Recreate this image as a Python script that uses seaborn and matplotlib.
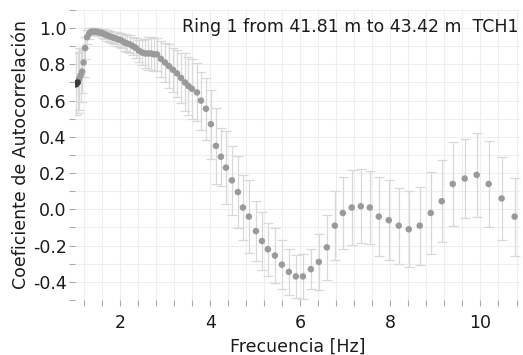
import numpy as np
import pandas as pd
import matplotlib
matplotlib.use("Agg")
import matplotlib.pyplot as plt
from matplotlib.ticker import MultipleLocator
import seaborn as sns

freq = [1.024, 1.058, 1.091, 1.124, 1.157, 1.191, 1.224, 1.268, 1.313, 1.357,
        1.401, 1.446, 1.490, 1.534, 1.579, 1.623, 1.667, 1.712, 1.767, 1.823,
        1.878, 1.933, 1.989, 2.044, 2.100, 2.155, 2.222, 2.288, 2.355, 2.421,
        2.488, 2.554, 2.621, 2.687, 2.754, 2.820, 2.909, 2.998, 3.086, 3.175,
        3.264, 3.353, 3.441, 3.519, 3.596, 3.707, 3.796, 3.907, 4.018, 4.129,
        4.239, 4.350, 4.483, 4.616, 4.727, 4.860, 5.016, 5.149, 5.282, 5.437,
        5.592, 5.747, 5.902, 6.058, 6.235, 6.412, 6.590, 6.767, 6.945, 7.143,
        7.344, 7.543, 7.743, 7.965, 8.186, 8.408, 8.652, 8.896, 9.140, 9.384,
        9.650, 9.916, 10.182, 10.470, 10.758]

coef = [0.69, 0.70, 0.72, 0.74, 0.76, 0.81, 0.89, 0.95, 0.97, 0.98,
        0.98, 0.98, 0.98, 0.975, 0.975, 0.97, 0.965, 0.96, 0.955, 0.95,
        0.945, 0.94, 0.935, 0.93, 0.92, 0.915, 0.91, 0.90, 0.89, 0.875,
        0.865, 0.86, 0.86, 0.86, 0.855, 0.855, 0.83, 0.81, 0.79, 0.77,
        0.75, 0.725, 0.70, 0.68, 0.665, 0.645, 0.60, 0.555, 0.47, 0.35,
        0.29, 0.23, 0.16, 0.095, 0.01, -0.04, -0.12, -0.175, -0.22, -0.255,
        -0.305, -0.345, -0.37, -0.37, -0.33, -0.29, -0.21, -0.09, -0.02, 0.01,
        0.017, 0.01, -0.04, -0.06, -0.09, -0.11, -0.09, -0.02, 0.045, 0.14,
        0.17, 0.19, 0.14, 0.06, -0.04]

err = [0.17, 0.17, 0.17, 0.15, 0.12, 0.08, 0.06, 0.04, 0.03, 0.02,
       0.02, 0.02, 0.02, 0.02, 0.02, 0.025, 0.025, 0.03, 0.03, 0.03,
       0.035, 0.04, 0.04, 0.04, 0.045, 0.045, 0.05, 0.05, 0.055, 0.06,
       0.07, 0.08, 0.09, 0.09, 0.09, 0.09, 0.10, 0.11, 0.12, 0.12,
       0.13, 0.14, 0.16, 0.16, 0.165, 0.16, 0.16, 0.17, 0.19, 0.21,
       0.16, 0.20, 0.19, 0.20, 0.18, 0.20, 0.165, 0.16, 0.145, 0.15,
       0.135, 0.125, 0.12, 0.125, 0.11, 0.155, 0.18, 0.19, 0.20, 0.205,
       0.205, 0.20, 0.22, 0.22, 0.21, 0.21, 0.215, 0.225, 0.225, 0.23,
       0.22, 0.23, 0.235, 0.23, 0.215]

title_text = "Ring 1 from 41.81 m to 43.42 m  TCH1"
x_label = "Frecuencia [Hz]"
y_label = "Coeficiente de Autocorrelación"
x_ticks = [2, 4, 6, 8, 10]
y_ticks = [-0.4, -0.2, 0.0, 0.2, 0.4, 0.6, 0.8, 1.0]

df = pd.DataFrame({"freq": freq, "coef": coef, "err": err})

sns.set_theme(style="white")
plt.rcParams['font.family'] = ['DejaVu Sans']

fig = plt.figure(figsize=(5.23, 3.55), dpi=100)
ax = fig.add_axes([0.1434, 0.155, 0.8528, 0.817])

ax.errorbar(df["freq"], df["coef"], yerr=df["err"], fmt="none",
            ecolor="#d8d8d8", elinewidth=0.9, capsize=3.5, capthick=0.9, zorder=2)
sns.scatterplot(data=df, x="freq", y="coef", ax=ax, color="#9a9a9a",
                s=22, edgecolor="none", zorder=3, legend=False)
dark = df.iloc[:2]
sns.scatterplot(data=dark, x="freq", y="coef", ax=ax, color="#3a3a3a",
                s=22, edgecolor="none", zorder=4, legend=False)

ax.set_xlim(1.0, 10.9)
ax.set_ylim(-0.5, 1.1)
ax.set_xticks(x_ticks)
ax.set_xticklabels([str(t) for t in x_ticks])
ax.set_yticks(y_ticks)
ax.set_yticklabels([f"{t:.1f}" for t in y_ticks])
ax.xaxis.set_minor_locator(MultipleLocator(0.4))
ax.yaxis.set_minor_locator(MultipleLocator(0.1))

ax.grid(True, which="both", color="#eeeeee", linewidth=0.8, zorder=0)
ax.set_axisbelow(True)
for s in ax.spines.values():
    s.set_visible(False)

ax.tick_params(axis="both", which="both", direction="out", colors="#aaaaaa",
               labelcolor="#1a1a1a", labelsize=12.5, length=4, width=0.8,
               bottom=True, left=True)
ax.tick_params(axis="x", pad=6)
ax.tick_params(axis="y", pad=2)

ax.set_xlabel(x_label, fontsize=12.5, color="#1a1a1a", labelpad=4)
ax.set_ylabel(y_label, fontsize=12.5, color="#1a1a1a", labelpad=2)

ax.text(0.995, 0.94, title_text, transform=ax.transAxes, ha="right", va="center",
        fontsize=12.5, color="#1a1a1a")

fig.savefig("out.png", dpi=100)
